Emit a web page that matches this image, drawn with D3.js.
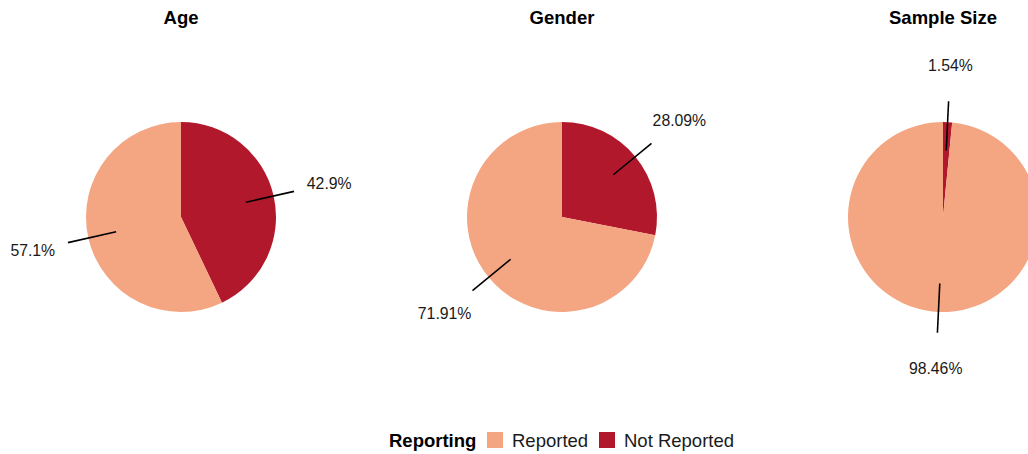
<!DOCTYPE html>
<html><head><meta charset="utf-8">
<script src="https://cdn.jsdelivr.net/npm/d3@7"></script>
<style>body{margin:0;background:#fff}svg{display:block;font-family:"Liberation Sans",Arial,sans-serif}</style>
</head><body><svg id="c" width="1028" height="454"></svg>
<script>
const panels = ["Age", "Gender", "Sample Size"];
const categories = ["Not Reported", "Reported"];
const notReported = [42.9, 28.09, 1.54];
const reported = [57.1, 71.91, 98.46];
const legendTitle = "Reporting";
const legendOrder = ["Reported", "Not Reported"];
const colors = {"Reported": "#F4A582", "Not Reported": "#B2182B"};

const svg = d3.select("#c");
const x = d3.scalePoint().domain(panels).range([181, 943]);
const cy = 217, r = 95;
const pie = d3.pie().sort(null).value(d => d.v);
const arc = d3.arc().innerRadius(0).outerRadius(r);

panels.forEach((p, i) => {
  const data = [{k: "Not Reported", v: notReported[i]}, {k: "Reported", v: reported[i]}];
  const g = svg.append("g").attr("transform", `translate(${x(p)},${cy})`);
  const arcs = pie(data);
  g.selectAll("path").data(arcs).join("path")
    .attr("d", arc).attr("fill", d => colors[d.data.k]);
  arcs.forEach(a => {
    const m = (a.startAngle + a.endAngle) / 2;
    const px = rr => rr * Math.sin(m), py = rr => -rr * Math.cos(m);
    g.append("line").attr("x1", px(0.7 * r)).attr("y1", py(0.7 * r))
      .attr("x2", px(1.22 * r)).attr("y2", py(1.22 * r))
      .attr("stroke", "#000").attr("stroke-width", 1.6);
    g.append("text").attr("x", px(1.6 * r)).attr("y", py(1.6 * r))
      .attr("text-anchor", "middle").attr("dominant-baseline", "central")
      .attr("font-size", 15.8).attr("fill", "#1a1a1a").text(a.data.v + "%");
  });
  svg.append("text").attr("x", x(p)).attr("y", 17).attr("text-anchor", "middle")
    .attr("dominant-baseline", "central").attr("font-size", 18.5).attr("font-weight", "bold")
    .text(p);
});

// legend
const lg = svg.append("g");
const ly = 440;
lg.append("text").attr("x", 389).attr("y", ly).attr("dominant-baseline", "central")
  .attr("font-size", 18.5).attr("font-weight", "bold").text(legendTitle);
const lx = {"Reported": 487, "Not Reported": 599};
legendOrder.forEach(k => {
  lg.append("rect").attr("x", lx[k]).attr("y", ly - 8).attr("width", 16).attr("height", 16)
    .attr("fill", colors[k]);
  lg.append("text").attr("x", lx[k] + 25).attr("y", ly).attr("dominant-baseline", "central")
    .attr("font-size", 18.5).attr("fill", "#1a1a1a").text(k);
});
</script></body></html>
